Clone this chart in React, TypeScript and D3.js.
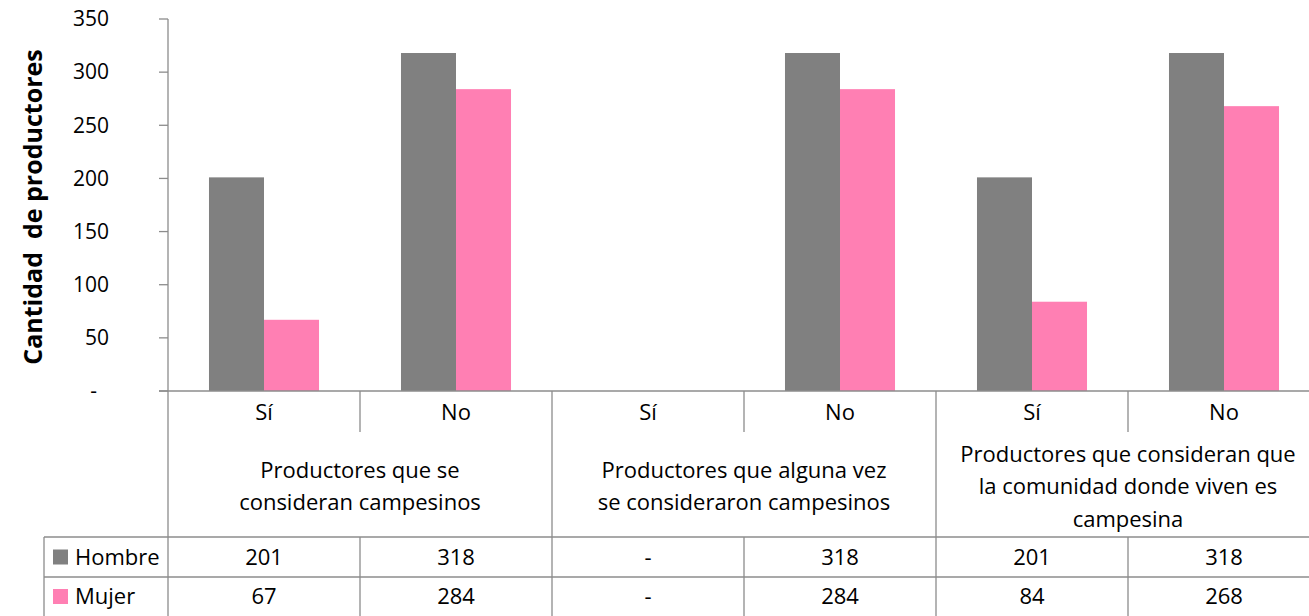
import React from "react";
import * as d3 from "d3";

const subCategories = ["Sí", "No", "Sí", "No", "Sí", "No"];
const groupLabels = [
  ["Productores que se", "consideran campesinos"],
  ["Productores que alguna vez", "se consideraron campesinos"],
  ["Productores que consideran que", "la comunidad donde viven es", "campesina"],
];
const seriesNames = ["Hombre", "Mujer"];
const seriesColors = ["#808080", "#FF7FB3"];
const hombre: (number | null)[] = [201, 318, null, 318, 201, 318];
const mujer: (number | null)[] = [67, 284, null, 284, 84, 268];
const yTicks = [0, 50, 100, 150, 200, 250, 300, 350];

export default function App() {
  const W = 1309, H = 616;
  const left = 168, right = 1320, top = 19, base = 391;
  const rowSub = 432, rowGroupEnd = 537, rowH = 577, rowEnd = 616;
  const tableLeft = 44;
  const font = "'Open Sans', 'Noto Sans', sans-serif";
  const lineColor = "#8c8c8c";
  const fs = 22;
  const fsTick = 21;

  const x = d3.scaleBand<number>().domain(d3.range(6)).range([left, right]).padding(0);
  const xs = d3.scaleBand<number>().domain([0, 1]).range([0, x.bandwidth()]).paddingInner(0).paddingOuter(0.745);
  const y = d3.scaleLinear().domain([0, 350]).range([base, top]);
  const series = [hombre, mujer];
  const fmt = (v: number | null) => (v === null ? "-" : String(v));

  return (
    <svg width={W} height={H} style={{ position: "absolute", left: 0, top: 0, background: "#fff" }} fontFamily={font}>
      {series.map((s, si) =>
        s.map((v, i) =>
          v === null ? null : (
            <rect key={`b${si}-${i}`} x={x(i)! + xs(si)!} y={y(v)} width={xs.bandwidth()} height={base - y(v)} fill={seriesColors[si]} />
          )
        )
      )}
      <line x1={left} x2={left} y1={top} y2={rowEnd} stroke={lineColor} strokeWidth={1.3} />
      {yTicks.map((t) => (
        <g key={t}>
          <line x1={159} x2={left} y1={y(t)} y2={y(t)} stroke={lineColor} strokeWidth={1.3} />
          <text x={t === 0 ? 97 : 109} y={y(t)} dy="0.35em" textAnchor="end" fontSize={fsTick} fill="#000">
            {t === 0 ? "-" : t}
          </text>
        </g>
      ))}
      <text transform={`translate(42,${(top + base) / 2 + 2}) rotate(-90)`} textAnchor="middle" fontSize={25} fontWeight="bold" fill="#000" style={{ whiteSpace: "pre" }}>
        {"Cantidad  de productores"}
      </text>
      <line x1={159} x2={W} y1={base} y2={base} stroke={lineColor} strokeWidth={1.3} />
      <line x1={tableLeft} x2={W} y1={rowGroupEnd} y2={rowGroupEnd} stroke={lineColor} strokeWidth={1.3} />
      <line x1={tableLeft} x2={W} y1={rowH} y2={rowH} stroke={lineColor} strokeWidth={1.3} />
      <line x1={tableLeft} x2={tableLeft} y1={rowGroupEnd} y2={rowEnd} stroke={lineColor} strokeWidth={1.3} />
      {d3.range(1, 6).map((i) => {
        const xx = x(i)!;
        const isGroup = i % 2 === 0;
        return isGroup ? (
          <line key={`v${i}`} x1={xx} x2={xx} y1={base} y2={rowEnd} stroke={lineColor} strokeWidth={1.3} />
        ) : (
          <g key={`v${i}`}>
            <line x1={xx} x2={xx} y1={base} y2={rowSub} stroke={lineColor} strokeWidth={1.3} />
            <line x1={xx} x2={xx} y1={rowGroupEnd} y2={rowEnd} stroke={lineColor} strokeWidth={1.3} />
          </g>
        );
      })}
      {subCategories.map((c, i) => (
        <text key={`s${i}`} x={x(i)! + x.bandwidth() / 2} y={412} dy="0.35em" textAnchor="middle" fontSize={fs} fill="#000">
          {c}
        </text>
      ))}
      {groupLabels.map((lines, g) => {
        const cx = x(g * 2)! + x.bandwidth();
        const cy = (rowSub + rowGroupEnd) / 2 + 2;
        const lh = 32.5;
        return (
          <g key={`g${g}`}>
            {lines.map((ln, k) => (
              <text key={k} x={cx} y={cy + (k - (lines.length - 1) / 2) * lh} dy="0.35em" textAnchor="middle" fontSize={fs} fill="#000">
                {ln}
              </text>
            ))}
          </g>
        );
      })}
      {series.map((s, si) => {
        const ry = si === 0 ? (rowGroupEnd + rowH) / 2 : (rowH + rowEnd) / 2;
        return (
          <g key={`r${si}`}>
            <rect x={53} y={ry - 7.5} width={15} height={15} fill={seriesColors[si]} />
            <text x={75} y={ry} dy="0.35em" fontSize={fs} fill="#000">{seriesNames[si]}</text>
            {s.map((v, i) => (
              <text key={i} x={x(i)! + x.bandwidth() / 2} y={ry} dy="0.35em" textAnchor="middle" fontSize={fs} fill="#000">
                {fmt(v)}
              </text>
            ))}
          </g>
        );
      })}
    </svg>
  );
}
